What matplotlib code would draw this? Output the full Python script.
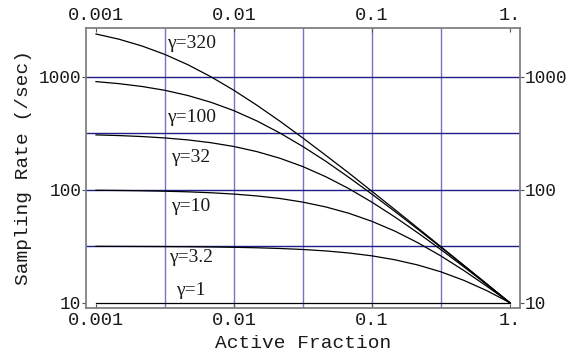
import matplotlib
matplotlib.use("Agg")
import matplotlib.pyplot as plt
from matplotlib.ticker import FixedLocator, NullLocator

# active fraction sample points (sixth-decade steps)
frac = [0.001, 0.001468, 0.002154, 0.003162, 0.004642, 0.006813,
        0.01, 0.01468, 0.02154, 0.03162, 0.04642, 0.06813,
        0.1, 0.1468, 0.2154, 0.3162, 0.4642, 0.6813, 1.0]

# sampling rate (/sec) for each gamma
rate_g320 = [2405, 2162, 1883, 1584, 1284, 1005, 762, 562, 406, 288,
             202, 141, 97.2, 66.9, 45.9, 31.4, 21.5, 14.7, 10]
rate_g100 = [910, 873, 824, 762, 685, 597, 503, 408, 319, 242,
             179, 129, 91.7, 64.4, 44.8, 31.0, 21.3, 14.6, 10]
rate_g32  = [306.8, 302.6, 296.6, 288.3, 276.9, 261.6, 242.1, 218.1, 190.5, 160.7,
             130.6, 102.5, 77.8, 57.5, 41.6, 29.6, 20.8, 14.5, 10]
rate_g10  = [99.1, 98.7, 98.1, 97.2, 96.0, 94.2, 91.7, 88.3, 83.8, 77.8,
             70.5, 62.0, 52.6, 43.1, 34.0, 26.0, 19.3, 14.0, 10]
rate_g3   = [31.55, 31.52, 31.47, 31.41, 31.31, 31.16, 30.95, 30.65, 30.21, 29.60,
             28.74, 27.56, 26.00, 24.00, 21.57, 18.78, 15.78, 12.79, 10]
rate_g1   = [10] * 19

labels = ["γ=320", "γ=100", "γ=32", "γ=10", "γ=3.2", "γ=1"]
label_x = [0.0049, 0.0049, 0.0049, 0.0049, 0.0049, 0.0049]
label_y = [2000, 441, 195, 71.7, 25.3, 12.9]

xgrid = [0.00316, 0.01, 0.0316, 0.1, 0.316]
ygrid = [31.6, 100, 316, 1000]
xticks = [0.001, 0.01, 0.1, 1.0]
xticklabels = ["0.001", "0.01", "0.1", "1."]
yticks = [10, 100, 1000]
yticklabels = ["10", "100", "1000"]

mono = "Liberation Mono"
serif = "Liberation Serif"
txt = "#1a1a1a"

fig = plt.figure(figsize=(5.68, 3.58), dpi=100)
ax = fig.add_axes([0.1514, 0.1397, 0.7641, 0.7821])
ax.set_xscale("log")
ax.set_yscale("log")
ax.set_xlim(0.001 * 10 ** -0.0725, 10 ** 0.0747)
ax.set_ylim(8.97, 2718)

for gx in xgrid:
    ax.axvline(gx, color="#7474c4", lw=1.0, zorder=1)
for gy in ygrid:
    ax.axhline(gy, color="#1e1e88", lw=1.0, zorder=1)

for ys in (rate_g320, rate_g100, rate_g32, rate_g10, rate_g3, rate_g1):
    ax.plot(frac, ys, color="black", lw=0.9, zorder=3)

for t, lx, ly in zip(labels, label_x, label_y):
    ax.text(lx, ly, t, ha="center", va="center", fontsize=14,
            family=serif, color=txt, zorder=4)

for s in ax.spines.values():
    s.set_color("#808080")
    s.set_linewidth(1.3)

ax.xaxis.set_major_locator(FixedLocator(xticks))
ax.yaxis.set_major_locator(FixedLocator(yticks))
ax.xaxis.set_minor_locator(NullLocator())
ax.yaxis.set_minor_locator(NullLocator())
ax.set_xticklabels(xticklabels, family=mono, fontsize=13.5, color=txt)
ax.set_yticklabels(yticklabels, family=mono, fontsize=12.8, color=txt)
ax.tick_params(axis="x", direction="in", length=3, width=0.8, color="#555555",
               top=True, labeltop=True, pad=3)
ax.tick_params(axis="y", direction="out", length=3, width=0.8, color="#555555",
               right=True, labelright=True, pad=0.5)

ax.set_xlabel("Active Fraction", family=mono, fontsize=14, labelpad=4, color=txt)
ax.set_ylabel("Sampling Rate (/sec)", family=mono, fontsize=14, labelpad=5, color=txt)

fig.savefig("out.png", dpi=100)
